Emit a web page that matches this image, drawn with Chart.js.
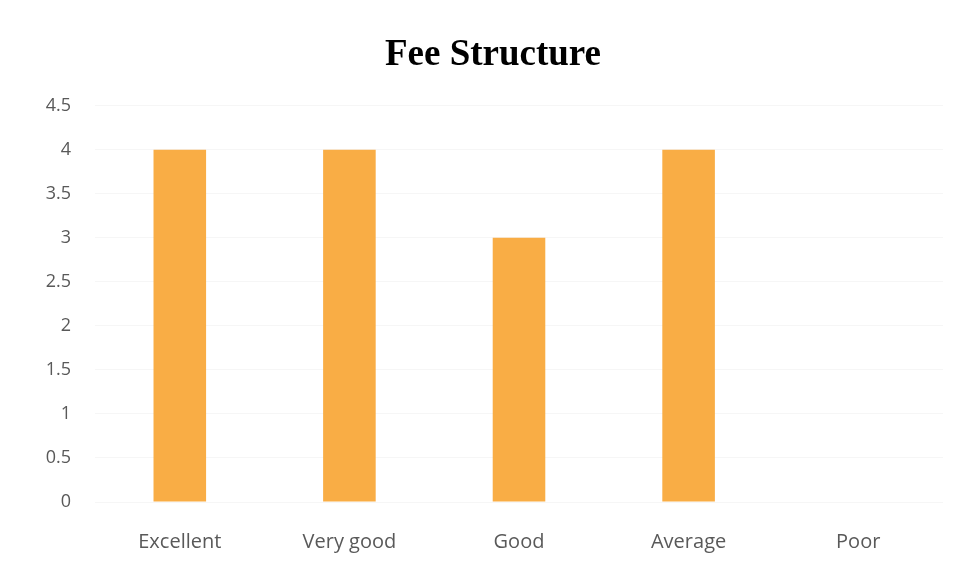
<!DOCTYPE html>
<html>
<head>
<meta charset="utf-8">
<script src="https://cdn.jsdelivr.net/npm/chart.js@4"></script>
<style>
html,body{margin:0;padding:0;background:#fff;}
#wrap{width:962px;height:580px;position:relative;}
</style>
</head>
<body>
<div id="wrap"><canvas id="c" width="962" height="580"></canvas></div>
<script>
const chartTitle = "Fee Structure";
const categories = ["Excellent", "Very good", "Good", "Average", "Poor"];
const values = [4, 4, 3, 4, 0];
const yMin = 0, yMax = 4.5, yStep = 0.5;

new Chart(document.getElementById('c'), {
  type: 'bar',
  data: {
    labels: categories,
    datasets: [{
      label: chartTitle,
      data: values,
      backgroundColor: '#F9AD45',
      borderWidth: 0,
      barPercentage: 0.31,
      categoryPercentage: 1.0
    }]
  },
  options: {
    responsive: false,
    animation: false,
    devicePixelRatio: 1,
    layout: { padding: { left: 43, right: 19, top: 0, bottom: 0 } },
    plugins: {
      legend: { display: false },
      tooltip: { enabled: false },
      title: {
        display: true,
        text: chartTitle,
        color: '#000',
        font: { family: "'Liberation Serif', 'Times New Roman', serif", size: 37, weight: 'bold', lineHeight: 1.1 },
        padding: { top: 35, bottom: 30 }
      }
    },
    scales: {
      x: {
        grid: { display: false, drawTicks: false },
        border: { display: false },
        ticks: { color: '#595959', font: { family: "'Open Sans', sans-serif", size: 20 }, padding: 28 },
        afterFit: s => { s.height = 78; }
      },
      y: {
        min: yMin, max: yMax,
        grid: { color: '#f6f6f6', drawTicks: false },
        border: { display: false },
        ticks: {
          stepSize: yStep,
          color: '#595959',
          font: { family: "'Open Sans', sans-serif", size: 18 },
          padding: 24,
          callback: v => String(v)
        },
        afterFit: s => { s.width = 52; }
      }
    }
  }
});
</script>
</body>
</html>
